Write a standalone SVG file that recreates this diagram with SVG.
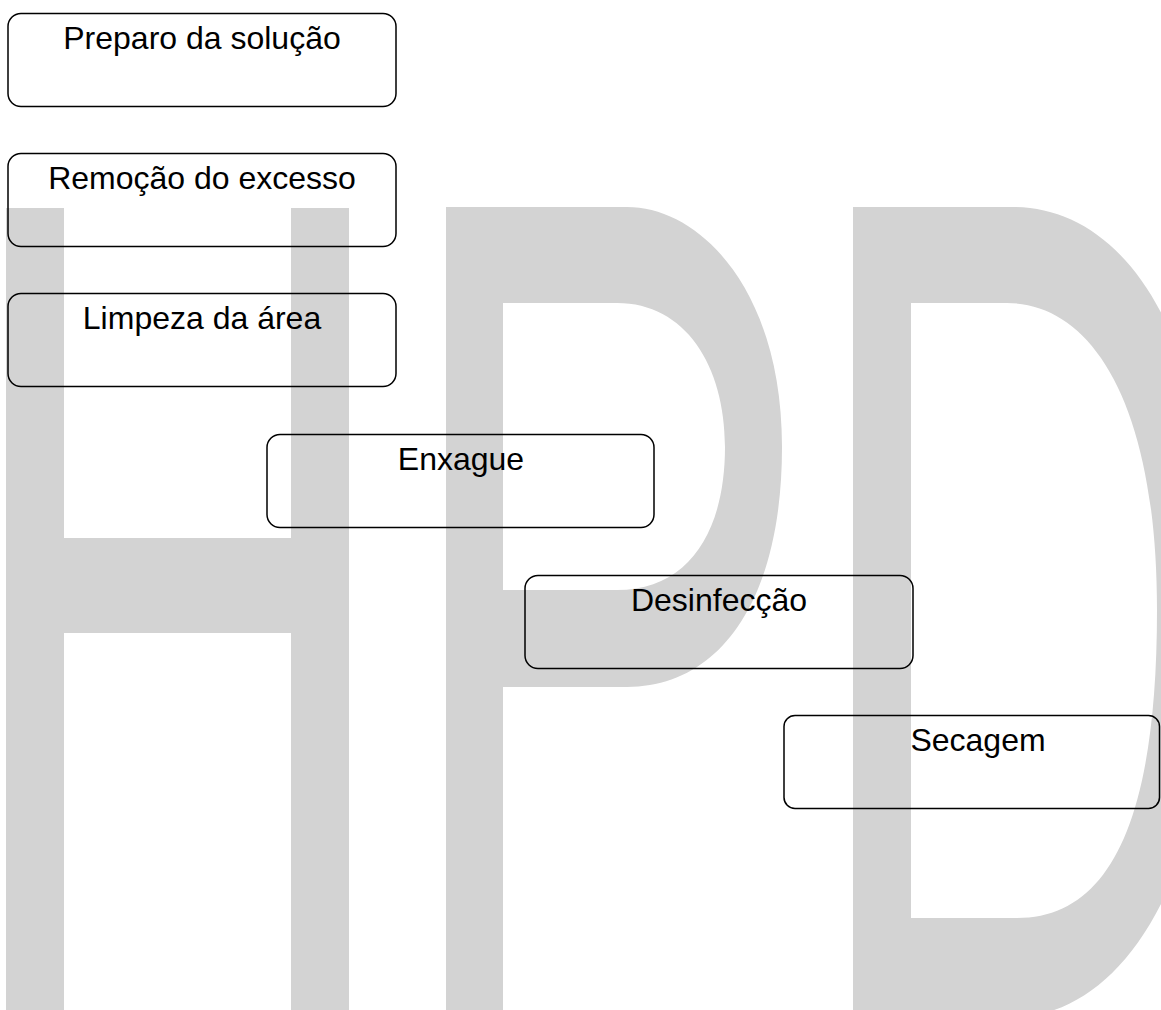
<svg xmlns="http://www.w3.org/2000/svg" width="1161" height="1010" viewBox="0 0 1161 1010">
  <style>
    .wm { fill: #d3d3d3; fill-rule: evenodd; stroke: none; }
    .box { fill: none; stroke: #000; stroke-width: 1.5; }
    .lbl { font-family: "Liberation Sans", Arial, sans-serif; font-size: 32px; fill: #000; text-anchor: middle; }
  </style>
  <rect x="0" y="0" width="1161" height="1010" fill="#fff"/>
  <g id="watermark">
    <path class="wm" d="M6,208 H64 V538 H291 V208 H349 V1030 H291 V633 H64 V1030 H6 Z"/>
    <path class="wm" d="M446,207 H627 C700,207 782,290 782,447 C782,600 720,687 627,687 H503 V1030 H446 Z M503,303 H617 C685,303 725,365 725,447 C725,530 690,590 617,590 H503 Z"/>
    <path class="wm" d="M853,207 H1013 C1120,207 1217,325 1217,612 C1217,880 1120,1017 1013,1017 H853 Z M911,303 H1007 C1090,303 1157,400 1157,610 C1157,820 1110,918 1017,918 H911 Z"/>
  </g>
  <g id="connectors"></g>
  <g id="node-preparo">
    <rect class="box" x="8" y="13.5" width="388" height="93" rx="13" ry="13"/>
    <text class="lbl" x="202" y="49">Preparo da solução</text>
  </g>
  <g id="node-remocao">
    <rect class="box" x="8" y="153.5" width="388" height="93" rx="13" ry="13"/>
    <text class="lbl" x="202" y="189">Remoção do excesso</text>
  </g>
  <g id="node-limpeza">
    <rect class="box" x="8" y="293.5" width="388" height="93" rx="13" ry="13"/>
    <text class="lbl" x="202" y="329">Limpeza da área</text>
  </g>
  <g id="node-enxague">
    <rect class="box" x="267" y="434.5" width="387" height="93" rx="13" ry="13"/>
    <text class="lbl" x="461" y="470">Enxague</text>
  </g>
  <g id="node-desinfeccao">
    <rect class="box" x="525" y="575.5" width="388" height="93" rx="13" ry="13"/>
    <text class="lbl" x="719" y="611">Desinfecção</text>
  </g>
  <g id="node-secagem">
    <rect class="box" x="784" y="715.5" width="375.5" height="93" rx="11" ry="11"/>
    <text class="lbl" x="978" y="751">Secagem</text>
  </g>
</svg>
